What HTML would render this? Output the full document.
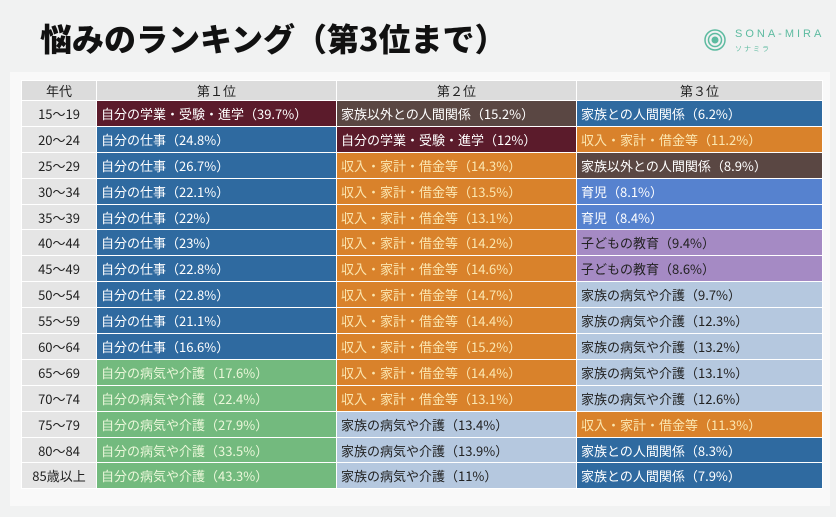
<!DOCTYPE html><html><head><meta charset="utf-8"><style>
body{margin:0;width:836px;height:517px;background:#f1f2f2;position:relative;overflow:hidden;font-family:"Liberation Sans","Noto Sans CJK JP",sans-serif}
.title{position:absolute;left:40px;top:18px;font-size:32px;line-height:40px;font-weight:900;letter-spacing:0;color:#111;font-family:"Noto Sans CJK JP",sans-serif;white-space:nowrap}
.panel{position:absolute;left:10px;top:72px;width:820px;height:434px;background:#f9f9f9}
table{position:absolute;left:21px;top:80px;border-collapse:collapse;table-layout:fixed}
td{height:24.9px;padding:0 4px;font-size:13px;border:1px solid #fff;white-space:nowrap;overflow:hidden;font-family:"Noto Sans CJK JP",sans-serif}
tr.h td{background:#dcdcdc;text-align:center;color:#222;height:19px}
td.a{background:#e5e5e5;text-align:center;color:#222}
.m{background:#5b1b2b;color:#fff}.b{background:#2f6aa0;color:#fff}.o{background:#d9822b;color:#fbe6b0}
.br{background:#5a4743;color:#fff}.lb{background:#b5c8df;color:#222}.g{background:#73ba7e;color:#eaf7d9}
.mb{background:#5682cf;color:#fff}.p{background:#a58ac4;color:#222}
.logo{position:absolute;left:703px;top:24px;color:#5dbba0;font-size:11px;letter-spacing:3px;white-space:nowrap}
.logo svg{position:absolute;left:0;top:2px}
.logo .t{position:absolute;left:32px;top:4px}
.logo .s{position:absolute;left:32px;top:20px;font-size:7px;letter-spacing:2px}
</style></head><body>
<div class="title">悩みのランキング（第3位まで）</div>
<div class="logo"><svg width="26" height="26"><circle cx="12" cy="14" r="10" fill="none" stroke="#5dbba0" stroke-width="1.5"/><circle cx="12" cy="14" r="6.5" fill="none" stroke="#5dbba0" stroke-width="1.5"/><circle cx="12" cy="14" r="3.5" fill="#5dbba0"/></svg><span class="t">SONA-MIRA</span><span class="s">ソナミラ</span></div>
<div class="panel"></div>
<table>
<colgroup><col style="width:75px"><col style="width:240px"><col style="width:240px"><col style="width:246px"></colgroup>
<tr class="h"><td>年代</td><td>第１位</td><td>第２位</td><td>第３位</td></tr>
<tr><td class="a">15〜19</td><td class="m">自分の学業・受験・進学（39.7%）</td><td class="br">家族以外との人間関係（15.2%）</td><td class="b">家族との人間関係（6.2%）</td></tr>
<tr><td class="a">20〜24</td><td class="b">自分の仕事（24.8%）</td><td class="m">自分の学業・受験・進学（12%）</td><td class="o">収入・家計・借金等（11.2%）</td></tr>
<tr><td class="a">25〜29</td><td class="b">自分の仕事（26.7%）</td><td class="o">収入・家計・借金等（14.3%）</td><td class="br">家族以外との人間関係（8.9%）</td></tr>
<tr><td class="a">30〜34</td><td class="b">自分の仕事（22.1%）</td><td class="o">収入・家計・借金等（13.5%）</td><td class="mb">育児（8.1%）</td></tr>
<tr><td class="a">35〜39</td><td class="b">自分の仕事（22%）</td><td class="o">収入・家計・借金等（13.1%）</td><td class="mb">育児（8.4%）</td></tr>
<tr><td class="a">40〜44</td><td class="b">自分の仕事（23%）</td><td class="o">収入・家計・借金等（14.2%）</td><td class="p">子どもの教育（9.4%）</td></tr>
<tr><td class="a">45〜49</td><td class="b">自分の仕事（22.8%）</td><td class="o">収入・家計・借金等（14.6%）</td><td class="p">子どもの教育（8.6%）</td></tr>
<tr><td class="a">50〜54</td><td class="b">自分の仕事（22.8%）</td><td class="o">収入・家計・借金等（14.7%）</td><td class="lb">家族の病気や介護（9.7%）</td></tr>
<tr><td class="a">55〜59</td><td class="b">自分の仕事（21.1%）</td><td class="o">収入・家計・借金等（14.4%）</td><td class="lb">家族の病気や介護（12.3%）</td></tr>
<tr><td class="a">60〜64</td><td class="b">自分の仕事（16.6%）</td><td class="o">収入・家計・借金等（15.2%）</td><td class="lb">家族の病気や介護（13.2%）</td></tr>
<tr><td class="a">65〜69</td><td class="g">自分の病気や介護（17.6%）</td><td class="o">収入・家計・借金等（14.4%）</td><td class="lb">家族の病気や介護（13.1%）</td></tr>
<tr><td class="a">70〜74</td><td class="g">自分の病気や介護（22.4%）</td><td class="o">収入・家計・借金等（13.1%）</td><td class="lb">家族の病気や介護（12.6%）</td></tr>
<tr><td class="a">75〜79</td><td class="g">自分の病気や介護（27.9%）</td><td class="lb">家族の病気や介護（13.4%）</td><td class="o">収入・家計・借金等（11.3%）</td></tr>
<tr><td class="a">80〜84</td><td class="g">自分の病気や介護（33.5%）</td><td class="lb">家族の病気や介護（13.9%）</td><td class="b">家族との人間関係（8.3%）</td></tr>
<tr><td class="a">85歳以上</td><td class="g">自分の病気や介護（43.3%）</td><td class="lb">家族の病気や介護（11%）</td><td class="b">家族との人間関係（7.9%）</td></tr>
</table>
</body></html>
